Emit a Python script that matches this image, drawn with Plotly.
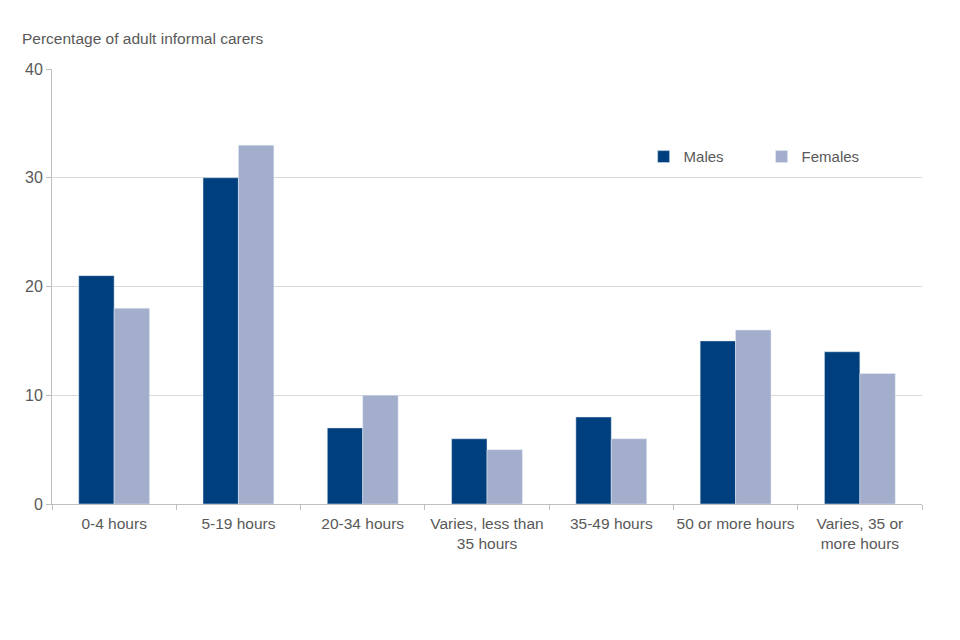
import plotly.graph_objects as go

categories = ["0-4 hours", "5-19 hours", "20-34 hours", "Varies, less than<br>35 hours",
              "35-49 hours", "50 or more hours", "Varies, 35 or<br>more hours"]
males = [21, 30, 7, 6, 8, 15, 14]
females = [18, 33, 10, 5, 6, 16, 12]
y_ticks = [0, 10, 20, 30, 40]

font_color = "#595959"
fig = go.Figure()
fig.add_trace(go.Bar(x=categories, y=males, name="Males", marker_color="#003F7D"))
fig.add_trace(go.Bar(x=categories, y=females, name="Females", marker_color="#A2AECB"))

fig.update_layout(
    width=960, height=640,
    paper_bgcolor="white", plot_bgcolor="white",
    font=dict(family="Liberation Sans, Arial, sans-serif", size=15, color=font_color),
    margin=dict(l=44, r=46, t=61, b=144, autoexpand=False),
    barmode="group", bargap=0.43, bargroupgap=0,
    legend=dict(orientation="h", x=0.68, y=0.798, xanchor="left", yanchor="middle",
                entrywidth=73, entrywidthmode="pixels", itemwidth=30,
                font=dict(size=15, color=font_color), bgcolor="rgba(0,0,0,0)"),
    showlegend=True,
)
fig.update_xaxes(showline=True, linecolor="#BFBFBF", linewidth=1, tickson="boundaries",
                 ticks="outside", ticklen=5, tickcolor="#BFBFBF", showgrid=False,
                 tickangle=0, automargin=False, ticklabelstandoff=5,
                 tickfont=dict(size=15.5, color=font_color))
fig.update_yaxes(range=[0, 40], tickvals=y_ticks, showline=True, linecolor="#BFBFBF",
                 linewidth=1, ticks="outside", ticklen=5, tickcolor="#BFBFBF",
                 showgrid=True, gridcolor="#D9D9D9", zeroline=False, automargin=False,
                 tickfont=dict(size=16, color=font_color))
fig.add_annotation(text="Percentage of adult informal carers", xref="paper", yref="paper",
                   x=-0.037, y=1.046, xanchor="left", yanchor="bottom", showarrow=False,
                   font=dict(size=15.5, color=font_color))
fig.write_html("out.html")
